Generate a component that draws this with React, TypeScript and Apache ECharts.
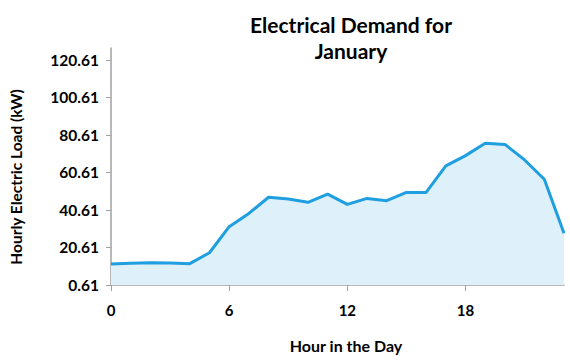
import React, { useEffect, useRef } from "react";
import * as echarts from "echarts";

const hours = [0, 1, 2, 3, 4, 5, 6, 7, 8, 9, 10, 11, 12, 13, 14, 15, 16, 17, 18, 19, 20, 21, 22, 23];
const loadKW = [11.8, 12.2, 12.5, 12.3, 12.0, 17.8, 31.7, 38.8, 47.4, 46.5, 44.7, 49.1, 43.6, 46.8, 45.6, 50.0, 50.0, 64.1, 69.6, 76.2, 75.6, 67.3, 57.0, 28.2];
const yTicks = [0.61, 20.61, 40.61, 60.61, 80.61, 100.61, 120.61];
const xTicks = [0, 6, 12, 18];

const FONT = "Lato";

export default function App() {
  const ref = useRef<HTMLDivElement>(null);
  useEffect(() => {
    if (!ref.current) return;
    const chart = echarts.init(ref.current, null, { renderer: "svg" });
    chart.setOption({
      animation: false,
      backgroundColor: "#ffffff",
      title: {
        text: "Electrical Demand for\nJanuary",
        left: 346,
        top: 6,
        textAlign: "center",
        textStyle: {
          fontFamily: FONT,
          fontWeight: "bold",
          fontSize: 21,
          lineHeight: 26,
          color: "#000",
        },
      },
      grid: { left: 111, right: 6, top: 48, bottom: 75 },
      xAxis: {
        type: "value",
        min: 0,
        max: 23,
        name: "Hour in the Day",
        nameLocation: "middle",
        nameGap: 52,
        nameTextStyle: {
          fontFamily: FONT,
          fontWeight: "bold",
          fontSize: 16,
          color: "#000",
          padding: [0, 0, 0, 17],
        },
        axisLine: { lineStyle: { color: "#a0a0a0", width: 1.5 } },
        axisTick: { show: true, length: 6, customValues: xTicks, lineStyle: { color: "#a0a0a0" } },
        axisLabel: {
          customValues: xTicks,
          margin: 17,
          fontFamily: FONT,
          fontWeight: "bold",
          fontSize: 15,
          color: "#000",
        },
        splitLine: { show: false },
      },
      yAxis: {
        type: "value",
        min: 0.61,
        max: 127,
        name: "Hourly Electric Load (kW)",
        nameLocation: "middle",
        nameGap: 87,
        nameTextStyle: {
          fontFamily: FONT,
          fontWeight: "bold",
          fontSize: 15.5,
          color: "#000",
          padding: [0, 21, 0, 0],
        },
        axisLine: { show: true, lineStyle: { color: "#a0a0a0", width: 1.5 } },
        axisTick: { show: true, length: 5, customValues: yTicks, lineStyle: { color: "#a0a0a0" } },
        axisLabel: {
          customValues: yTicks,
          margin: 12,
          fontFamily: FONT,
          fontWeight: "bold",
          fontSize: 15.5,
          color: "#000",
          formatter: (v: number) => v.toFixed(2),
        },
        splitLine: { show: false },
      },
      series: [
        {
          type: "line",
          data: hours.map((h, i) => [h, loadKW[i]]),
          symbol: "none",
          lineStyle: { color: "#1f9fe0", width: 3 },
          areaStyle: { color: "#def0f9", opacity: 1 },
        },
      ],
    });
    return () => chart.dispose();
  }, []);
  return <div ref={ref} style={{ width: 570, height: 360, position: "absolute", left: 0, top: 0 }} />;
}
